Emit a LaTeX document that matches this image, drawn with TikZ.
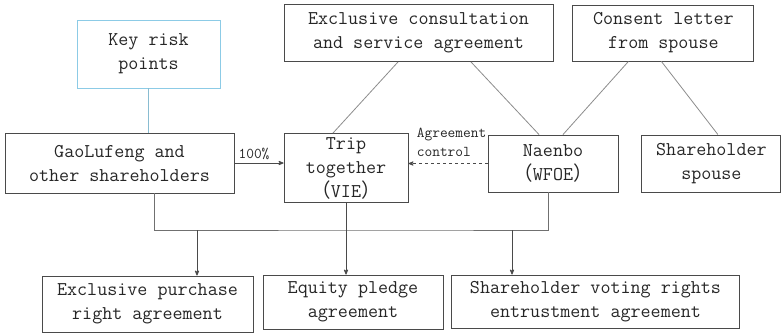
\documentclass[tikz,border=0pt]{standalone}
\usepackage{fontspec}
\newfontfamily\cjk{Noto Sans CJK SC}
\usepackage{tikz}
\usetikzlibrary{arrows}
\usetikzlibrary{positioning}

\definecolor{boxline}{HTML}{4A4A4A}
\definecolor{linkline}{HTML}{8C8C8C}
\definecolor{riskblue}{HTML}{8CCBE6}

\begin{document}
\begin{tikzpicture}[x=1bp,y=-1bp,>=stealth',
  box/.style={draw=boxline,line width=0.9bp,align=center,inner sep=0pt,
    font=\ttfamily\fontsize{19.5bp}{24bp}\selectfont,text=black!85},
  link/.style={draw=linkline,line width=0.8bp},
  tag/.style={font=\ttfamily\fontsize{15bp}{19bp}\selectfont,text=black!85}]

  \useasboundingbox (0,0) rectangle (782,333);

  \node[box,draw=riskblue,minimum width=143bp,minimum height=68bp] (key) at (148.5,54) {Key risk\\points};
  \node[box,minimum width=229bp,minimum height=60bp] (gao) at (119.5,163) {GaoLufeng and\\other shareholders};
  \node[box,minimum width=124bp,minimum height=69bp] (trip) at (346,168) {Trip\\together\\{\cjk（}VIE{\cjk）}};
  \node[box,minimum width=269bp,minimum height=57bp] (consult) at (418.5,33) {Exclusive consultation\\and service agreement};
  \node[box,minimum width=181bp,minimum height=56bp] (consent) [right=19bp of consult] {Consent letter\\from spouse};
  \node[box,minimum width=130bp,minimum height=57bp] (naenbo) at (553,163.5) {Naenbo\\{\cjk（}WFOE{\cjk）}};
  \node[box,minimum width=139bp,minimum height=57bp] (spouse) [right=23bp of naenbo] {Shareholder\\spouse};
  \node[box,minimum width=211bp,minimum height=56bp] (purchase) at (147.5,304) {Exclusive purchase\\right agreement};
  \node[box,minimum width=180bp,minimum height=54bp] (pledge) at (353,302) {Equity pledge\\agreement};
  \node[box,minimum width=288bp,minimum height=53bp] (voting) at (595.5,301.5) {Shareholder voting rights\\entrustment agreement};

  % joints on the bus line
  \coordinate (bus) at (400,230);
  \coordinate (j1) at (197,230);
  \coordinate (j2) at (512,230);

  \draw[link,draw=riskblue!80!gray] (key.south) -- (key.south |- gao.north);
  \draw[link,->,draw=boxline] (gao.east) -- node[tag,above,xshift=-5bp] {100\%} (trip.west |- gao.east);
  \draw[link,->,dashed,draw=boxline] (naenbo.west) -- (trip.east |- naenbo.west);
  \node[tag,align=left,anchor=south east,inner sep=1bp] (ctrl) at ([yshift=6bp]naenbo.west) {Agreement\\control};

  \path[link]
    ([xshift=-20.5bp]consult.south) edge ([xshift=-13bp]trip.north)
    ([xshift=52.5bp]consult.south) edge ([xshift=-14bp]naenbo.north)
    ([xshift=-35bp]consent.south) edge ([xshift=10bp]naenbo.north)
    ([xshift=-2bp]consent.south) edge ([xshift=6.5bp]spouse.north);

  \draw[link,draw=linkline!80!black] ([xshift=34.5bp]gao.south) |- (bus) -| ([xshift=-5bp]naenbo.south);
  \draw[link,->,draw=boxline] (trip.south) -- (trip.south |- pledge.north);
  \draw[link,->,draw=boxline] (j1) -- (j1 |- purchase.north);
  \draw[link,->,draw=boxline] (j2) -- (j2 |- voting.north);
\end{tikzpicture}
\end{document}
